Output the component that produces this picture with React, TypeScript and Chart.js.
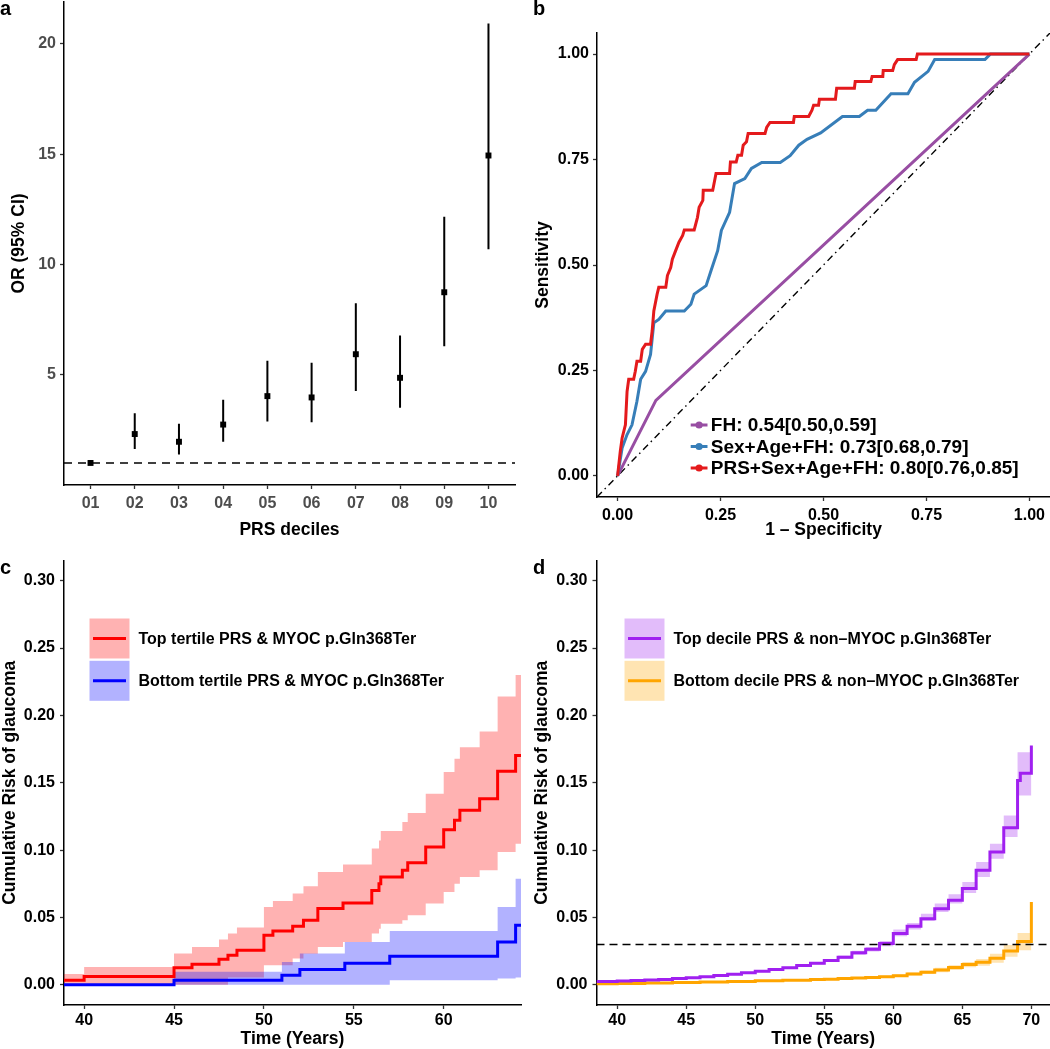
import React, { useEffect, useRef } from 'react';
import { Chart, registerables } from 'chart.js';

Chart.register(...registerables);

const FONT = "'Liberation Sans', Arial, Helvetica, sans-serif";

// ---------------- Panel a : OR by PRS decile ----------------
const decileLabels = ['01', '02', '03', '04', '05', '06', '07', '08', '09', '10'];
const decilePositions = [1, 2, 3, 4, 5, 6, 7, 8, 9, 10];
const orEstimate = [1.0, 2.31, 1.96, 2.74, 4.03, 3.97, 5.93, 4.86, 8.74, 14.94];
const orLower = [1.0, 1.63, 1.38, 1.96, 2.88, 2.84, 4.26, 3.5, 6.29, 10.69];
const orUpper = [1.0, 3.25, 2.78, 3.86, 5.63, 5.54, 8.24, 6.78, 12.16, 20.93];
const orTicks = [5, 10, 15, 20];
const orReference = 1;

// ---------------- Panel b : ROC curves ----------------
const fhFpr = [0, 0.093, 1];
const fhTpr = [0, 0.179, 1];
const clinFpr = [0, 0.011, 0.023, 0.035, 0.047, 0.056, 0.068, 0.08, 0.088, 0.1, 0.117, 0.162, 0.178, 0.186, 0.215, 0.227, 0.243, 0.252, 0.272, 0.284, 0.309, 0.325, 0.35, 0.395, 0.419, 0.44, 0.46, 0.493, 0.546, 0.587, 0.607, 0.627, 0.664, 0.705, 0.721, 0.754, 0.77, 0.892, 0.905, 1.0];
const clinTpr = [0, 0.066, 0.098, 0.121, 0.177, 0.229, 0.248, 0.288, 0.363, 0.371, 0.391, 0.391, 0.407, 0.431, 0.451, 0.487, 0.534, 0.582, 0.625, 0.693, 0.705, 0.729, 0.743, 0.743, 0.759, 0.784, 0.798, 0.813, 0.852, 0.852, 0.867, 0.867, 0.906, 0.906, 0.933, 0.959, 0.987, 0.987, 1.0, 1.0];
const prsFpr = [0, 0.0065, 0.011, 0.019, 0.023, 0.027, 0.039, 0.043, 0.047, 0.056, 0.06, 0.068, 0.08, 0.084, 0.088, 0.096, 0.1, 0.117, 0.121, 0.129, 0.133, 0.141, 0.149, 0.158, 0.162, 0.186, 0.194, 0.198, 0.207, 0.208, 0.231, 0.239, 0.272, 0.274, 0.288, 0.292, 0.301, 0.305, 0.313, 0.317, 0.358, 0.362, 0.37, 0.427, 0.429, 0.464, 0.472, 0.476, 0.488, 0.49, 0.529, 0.532, 0.575, 0.577, 0.615, 0.618, 0.644, 0.645, 0.668, 0.672, 0.68, 0.725, 0.728, 1.0];
const prsTpr = [0, 0.058, 0.09, 0.121, 0.2, 0.229, 0.229, 0.248, 0.272, 0.272, 0.3, 0.312, 0.312, 0.344, 0.391, 0.431, 0.447, 0.447, 0.475, 0.494, 0.514, 0.534, 0.554, 0.57, 0.583, 0.583, 0.613, 0.637, 0.653, 0.677, 0.677, 0.717, 0.717, 0.744, 0.744, 0.76, 0.76, 0.784, 0.792, 0.812, 0.812, 0.826, 0.838, 0.838, 0.852, 0.852, 0.867, 0.879, 0.879, 0.893, 0.893, 0.919, 0.919, 0.935, 0.935, 0.947, 0.947, 0.961, 0.961, 0.975, 0.987, 0.987, 1.0, 1.0];
const rocLabels = ['FH: 0.54[0.50,0.59]', 'Sex+Age+FH: 0.73[0.68,0.79]', 'PRS+Sex+Age+FH: 0.80[0.76,0.85]'];
const rocColors = ['#984EA3', '#377EB8', '#E41A1C'];
const rocTicks = [0, 0.25, 0.5, 0.75, 1];
const diagonal = [-0.05, 1.05];

// ---------------- Panel c : MYOC carriers by PRS tertile ----------------
const topTertileTime = [38.8, 40, 45, 46, 47.5, 48, 48.5, 50, 50.5, 51.6, 52.2, 53, 54.4, 56, 56.4, 56.5, 57.7, 58, 59, 60, 60.6, 60.9, 62, 63, 64, 64.4];
const topTertileRisk = [0.0034, 0.0062, 0.0126, 0.0153, 0.019, 0.022, 0.0257, 0.0368, 0.04, 0.0434, 0.048, 0.0566, 0.0608, 0.07, 0.0751, 0.08, 0.085, 0.0907, 0.1023, 0.1151, 0.1221, 0.1295, 0.1381, 0.1586, 0.1702, 0.1702];
const topTertileUpper = [0.008, 0.0133, 0.0232, 0.0281, 0.0336, 0.038, 0.0425, 0.0578, 0.0622, 0.0677, 0.0731, 0.0837, 0.0894, 0.1011, 0.1072, 0.1142, 0.1208, 0.1275, 0.1418, 0.158, 0.1679, 0.1764, 0.188, 0.214, 0.23, 0.23];
const topTertileLower = [0, 0, 0, 0, 0, 0.0054, 0.0054, 0.0145, 0.0145, 0.0195, 0.023, 0.028, 0.0318, 0.038, 0.0417, 0.0454, 0.0479, 0.0516, 0.0603, 0.0689, 0.0751, 0.08, 0.085, 0.0986, 0.1047, 0.1047];
const bottomTertileTime = [38.8, 45, 51, 52, 54.5, 57, 63, 64, 64.4];
const bottomTertileRisk = [0, 0.0034, 0.0071, 0.0113, 0.016, 0.0212, 0.0318, 0.0442, 0.0442];
const bottomTertileUpper = [0, 0.0096, 0.017, 0.0232, 0.0318, 0.04, 0.0578, 0.0788, 0.0788];
const bottomTertileLower = [0, 0, 0, 0, 0, 0.0034, 0.0046, 0.0054, 0.0054];
const tertileLabels = ['Top tertile PRS & MYOC p.Gln368Ter', 'Bottom tertile PRS & MYOC p.Gln368Ter'];
const ageTicksC = [40, 45, 50, 55, 60];
const riskTicks = [0, 0.05, 0.1, 0.15, 0.2, 0.25, 0.3];

// ---------------- Panel d : non-carriers by PRS decile ----------------
const topDecileTime = [38.5, 40, 41, 42, 43, 44, 45, 46, 47, 48, 49, 50, 51, 52, 53, 54, 55, 56, 57, 58, 59, 60, 61, 62, 63, 64, 65, 66, 67, 68, 69, 69.2, 70];
const topDecileRisk = [0.0024, 0.0028, 0.0031, 0.0035, 0.004, 0.0046, 0.0053, 0.006, 0.0069, 0.0078, 0.0089, 0.0101, 0.0113, 0.0127, 0.0143, 0.016, 0.018, 0.0205, 0.0237, 0.0264, 0.0306, 0.038, 0.0434, 0.0491, 0.0565, 0.0627, 0.0714, 0.085, 0.0985, 0.1166, 0.1517, 0.1571, 0.1776];
const topDecileUpper = [0.0025, 0.0029, 0.0032, 0.0036, 0.0041, 0.0048, 0.0055, 0.0063, 0.0072, 0.0082, 0.0093, 0.0106, 0.0119, 0.0134, 0.0151, 0.017, 0.0191, 0.0218, 0.0252, 0.0281, 0.0326, 0.041, 0.0459, 0.0528, 0.0603, 0.0672, 0.0763, 0.0912, 0.1048, 0.1257, 0.1727, 0.1727, 0.1727];
const topDecileLower = [0.0023, 0.0027, 0.003, 0.0034, 0.0039, 0.0044, 0.0051, 0.0057, 0.0066, 0.0074, 0.0085, 0.0096, 0.0107, 0.012, 0.0135, 0.015, 0.0169, 0.0192, 0.0222, 0.0247, 0.0286, 0.0361, 0.041, 0.0474, 0.0541, 0.0603, 0.0682, 0.08, 0.0936, 0.1097, 0.1406, 0.1406, 0.1406];
const bottomDecileTime = [38.5, 40, 42, 44, 46, 48, 50, 52, 54, 55, 56, 57, 58, 59, 60, 61, 62, 63, 64, 65, 66, 67, 68, 69, 70];
const bottomDecileRisk = [0.0008, 0.001, 0.0013, 0.0017, 0.0021, 0.0025, 0.003, 0.0034, 0.0039, 0.0042, 0.0046, 0.005, 0.0055, 0.006, 0.0068, 0.008, 0.0094, 0.011, 0.0128, 0.015, 0.0167, 0.0197, 0.025, 0.0322, 0.0615];
const bottomDecileUpper = [0.0009, 0.0011, 0.0014, 0.0018, 0.0023, 0.0027, 0.0033, 0.0037, 0.0043, 0.0046, 0.0051, 0.0056, 0.0062, 0.0068, 0.0077, 0.0091, 0.0107, 0.0126, 0.0146, 0.017, 0.0192, 0.023, 0.0296, 0.0385, 0.0385];
const bottomDecileLower = [0.0007, 0.0009, 0.0012, 0.0015, 0.0019, 0.0023, 0.0027, 0.0031, 0.0035, 0.0038, 0.0041, 0.0044, 0.0048, 0.0052, 0.0059, 0.0069, 0.0081, 0.0094, 0.011, 0.013, 0.0142, 0.0163, 0.0208, 0.0257, 0.0257];
const decileKmLabels = ['Top decile PRS & non\u2013MYOC p.Gln368Ter', 'Bottom decile PRS & non\u2013MYOC p.Gln368Ter'];
const ageTicksD = [40, 45, 50, 55, 60, 65, 70];
const riskThreshold = 0.03;

// ---------------- helpers ----------------
type Frame = { w: number; h: number; left: number; top: number; right: number; bottom: number };
type AxisSpec = { min: number; max: number; ticks: number[]; format: (v: number) => string; color: string; pad: number };

const pts = (xs: number[], ys: (number | null)[]) => xs.map((x, i) => ({ x, y: ys[i] }));

const tickFont = { family: FONT, size: 16, weight: 'bold' as const };

function scales(f: Frame, x: AxisSpec, y: AxisSpec) {
  const grid = { display: true, drawOnChartArea: false, drawTicks: true, tickLength: 4, tickWidth: 1.3, tickColor: '#333' };
  const border = { display: true, color: '#000', width: 1.5 };
  return {
    x: {
      type: 'linear', min: x.min, max: x.max,
      afterBuildTicks: (s: any) => { s.ticks = x.ticks.map((value) => ({ value })); },
      afterFit: (s: any) => { s.height = f.h - f.bottom; s.paddingLeft = 0; s.paddingRight = 0; s.paddingTop = 0; s.paddingBottom = 0; },
      grid, border,
      ticks: { color: x.color, font: tickFont, padding: x.pad, maxRotation: 0, minRotation: 0, autoSkip: false, callback: (v: any) => x.format(Number(v)) },
    },
    y: {
      type: 'linear', min: y.min, max: y.max,
      afterBuildTicks: (s: any) => { s.ticks = y.ticks.map((value) => ({ value })); },
      afterFit: (s: any) => { s.width = f.left; s.paddingLeft = 0; s.paddingRight = 0; s.paddingTop = 0; s.paddingBottom = 0; },
      grid, border,
      ticks: { color: y.color, font: tickFont, padding: y.pad, autoSkip: false, callback: (v: any) => y.format(Number(v)) },
    },
  };
}

function baseOptions(f: Frame, sc: any) {
  return {
    animation: false,
    responsive: false,
    maintainAspectRatio: false,
    devicePixelRatio: 1,
    layout: { autoPadding: false, padding: { left: 0, top: f.top, right: f.w - f.right, bottom: 0 } },
    plugins: { legend: { display: false }, tooltip: { enabled: false }, title: { display: false } },
    events: [],
    scales: sc,
  };
}

function text(ctx: CanvasRenderingContext2D, s: string, x: number, y: number, size: number,
  align: CanvasTextAlign = 'left', baseline: CanvasTextBaseline = 'alphabetic', rotate = false, color = '#000') {
  ctx.save();
  ctx.font = `bold ${size}px ${FONT}`;
  ctx.fillStyle = color;
  ctx.textAlign = align;
  ctx.textBaseline = baseline;
  if (rotate) {
    ctx.translate(x, y);
    ctx.rotate(-Math.PI / 2);
    ctx.fillText(s, 0, 0);
  } else {
    ctx.fillText(s, x, y);
  }
  ctx.restore();
}

function decor(draw: (ctx: CanvasRenderingContext2D, chart: any) => void) {
  return {
    id: 'decor',
    afterDraw(chart: any) {
      const ctx = chart.ctx as CanvasRenderingContext2D;
      ctx.save();
      draw(ctx, chart);
      ctx.restore();
    },
  };
}

function bandLegend(ctx: CanvasRenderingContext2D, x0: number, textX: number, labels: string[], lines: string[], fills: string[]) {
  labels.forEach((lab, i) => {
    const top = 78.5 + i * 42.3;
    ctx.fillStyle = fills[i];
    ctx.fillRect(x0, top, 40, 40);
    ctx.strokeStyle = lines[i];
    ctx.lineWidth = 3;
    ctx.beginPath();
    ctx.moveTo(x0 + 3.5, top + 20);
    ctx.lineTo(x0 + 36.5, top + 20);
    ctx.stroke();
    text(ctx, lab, textX, top + 21, 16, 'left', 'middle');
  });
}

function kmDatasets(time: number[], est: number[], lo: number[], hi: number[], line: string, fill: string) {
  return {
    line: { type: 'line', data: pts(time, est), borderColor: line, borderWidth: 3, pointRadius: 0, stepped: 'before', fill: false },
    upper: { type: 'line', data: pts(time, hi), borderColor: 'rgba(0,0,0,0)', borderWidth: 0, pointRadius: 0, stepped: 'before', fill: '+1', backgroundColor: fill },
    lower: { type: 'line', data: pts(time, lo), borderColor: 'rgba(0,0,0,0)', borderWidth: 0, pointRadius: 0, stepped: 'before', fill: false },
  };
}

// ---------------- chart configs ----------------
function configA() {
  const f: Frame = { w: 525, h: 540, left: 64, top: 2, right: 515, bottom: 485 };
  const grey = '#4D4D4D';
  const errData: { x: number; y: number | null }[] = [];
  decilePositions.forEach((p, i) => {
    errData.push({ x: p, y: orLower[i] }, { x: p, y: orUpper[i] }, { x: p, y: null });
  });
  const sc = scales(f,
    { min: 0.4, max: 10.6, ticks: decilePositions, format: (v) => decileLabels[Math.round(v) - 1] ?? '', color: grey, pad: 5 },
    { min: 0, max: 21.9, ticks: orTicks, format: (v) => String(v), color: grey, pad: 4 });
  return {
    type: 'scatter',
    data: {
      datasets: [
        { data: pts(decilePositions, orEstimate), pointStyle: 'rect', pointRadius: 4.2, backgroundColor: '#000', borderColor: '#000', borderWidth: 0, showLine: false },
        { data: errData, showLine: true, borderColor: '#000', borderWidth: 2, pointRadius: 0, spanGaps: false },
        { data: [{ x: 0.4, y: orReference }, { x: 10.6, y: orReference }], showLine: true, borderColor: '#000', borderWidth: 1.5, borderDash: [8, 6], pointRadius: 0 },
      ],
    },
    options: baseOptions(f, sc),
    plugins: [decor((ctx) => {
      text(ctx, 'a', 0, 15, 20);
      text(ctx, 'PRS deciles', (f.left + f.right) / 2, 535, 17.5, 'center');
      text(ctx, 'OR (95% CI)', 23.8, (f.top + f.bottom) / 2, 17.5, 'center', 'alphabetic', true);
    })],
  };
}

function configB() {
  const f: Frame = { w: 525, h: 540, left: 72, top: 33, right: 525, bottom: 497 };
  const fmt = (v: number) => v.toFixed(2);
  const sc = scales(f,
    { min: -0.05, max: 1.05, ticks: rocTicks, format: fmt, color: '#000', pad: 5 },
    { min: -0.05, max: 1.05, ticks: rocTicks, format: fmt, color: '#000', pad: 4 });
  const lineDs = (xs: number[], ys: number[], c: string) => ({ type: 'line', data: pts(xs, ys), borderColor: c, borderWidth: 3, pointRadius: 0, fill: false, tension: 0 });
  return {
    type: 'line',
    data: {
      datasets: [
        lineDs(prsFpr, prsTpr, rocColors[2]),
        lineDs(clinFpr, clinTpr, rocColors[1]),
        lineDs(fhFpr, fhTpr, rocColors[0]),
        { type: 'line', data: pts(diagonal, diagonal), borderColor: '#000', borderWidth: 1.4, borderDash: [7, 4, 1.5, 4], pointRadius: 0, fill: false },
      ],
    },
    options: baseOptions(f, sc),
    plugins: [decor((ctx) => {
      text(ctx, 'b', 8, 15, 20);
      text(ctx, '1 \u2013 Specificity', (f.left + f.right) / 2, 535, 17.5, 'center');
      text(ctx, 'Sensitivity', 22.5, (f.top + f.bottom) / 2, 17.5, 'center', 'alphabetic', true);
      rocLabels.forEach((lab, i) => {
        const y = 425 + i * 21.5;
        ctx.strokeStyle = rocColors[i];
        ctx.lineWidth = 3;
        ctx.beginPath();
        ctx.moveTo(165.7, y);
        ctx.lineTo(182.5, y);
        ctx.stroke();
        ctx.fillStyle = rocColors[i];
        ctx.beginPath();
        ctx.arc(174.1, y, 3.6, 0, Math.PI * 2);
        ctx.fill();
        text(ctx, lab, 185.8, y + 1, 19, 'left', 'middle');
      });
    })],
  };
}

function configC() {
  const f: Frame = { w: 525, h: 509, left: 64, top: 20.5, right: 521, bottom: 465 };
  const sc = scales(f,
    { min: 38.88, max: 64.3, ticks: ageTicksC, format: (v) => String(v), color: '#000', pad: 2 },
    { min: -0.015, max: 0.315, ticks: riskTicks, format: (v) => v.toFixed(2), color: '#000', pad: 5 });
  const redFill = 'rgba(255,0,0,0.3)';
  const blueFill = 'rgba(0,0,255,0.3)';
  const top = kmDatasets(topTertileTime, topTertileRisk, topTertileLower, topTertileUpper, '#FF0000', redFill);
  const bot = kmDatasets(bottomTertileTime, bottomTertileRisk, bottomTertileLower, bottomTertileUpper, '#0000FF', blueFill);
  return {
    type: 'line',
    data: { datasets: [top.line, bot.line, bot.upper, bot.lower, top.upper, top.lower] },
    options: baseOptions(f, sc),
    plugins: [decor((ctx) => {
      text(ctx, 'c', 0, 34, 20);
      text(ctx, 'Time (Years)', (f.left + f.right) / 2, 504, 17.5, 'center');
      text(ctx, 'Cumulative Risk of glaucoma', 14.5, (f.top + f.bottom) / 2, 17.5, 'center', 'alphabetic', true);
      bandLegend(ctx, 89.5, 138.5, tertileLabels, ['#FF0000', '#0000FF'], [redFill, blueFill]);
    })],
  };
}

function configD() {
  const f: Frame = { w: 525, h: 509, left: 71.5, top: 20.5, right: 525, bottom: 465 };
  const sc = scales(f,
    { min: 38.5, max: 71.35, ticks: ageTicksD, format: (v) => String(v), color: '#000', pad: 2 },
    { min: -0.015, max: 0.315, ticks: riskTicks, format: (v) => v.toFixed(2), color: '#000', pad: 5 });
  const purpleFill = 'rgba(160,32,240,0.3)';
  const orangeFill = 'rgba(255,165,0,0.3)';
  const top = kmDatasets(topDecileTime, topDecileRisk, topDecileLower, topDecileUpper, '#A020F0', purpleFill);
  const bot = kmDatasets(bottomDecileTime, bottomDecileRisk, bottomDecileLower, bottomDecileUpper, '#FFA500', orangeFill);
  return {
    type: 'line',
    data: {
      datasets: [
        { type: 'line', data: [{ x: 38.5, y: riskThreshold }, { x: 71.35, y: riskThreshold }], borderColor: '#000', borderWidth: 1.5, borderDash: [8, 5], pointRadius: 0, fill: false },
        top.line, bot.line, top.upper, top.lower, bot.upper, bot.lower,
      ],
    },
    options: baseOptions(f, sc),
    plugins: [decor((ctx) => {
      text(ctx, 'd', 8, 34, 20);
      text(ctx, 'Time (Years)', (f.left + f.right) / 2, 504, 17.5, 'center');
      text(ctx, 'Cumulative Risk of glaucoma', 21.7, (f.top + f.bottom) / 2, 17.5, 'center', 'alphabetic', true);
      bandLegend(ctx, 99.5, 148.5, decileKmLabels, ['#A020F0', '#FFA500'], [purpleFill, orangeFill]);
    })],
  };
}

function Panel({ left, top, width, height, make }: { left: number; top: number; width: number; height: number; make: () => any }) {
  const ref = useRef<HTMLCanvasElement>(null);
  useEffect(() => {
    const chart = new Chart(ref.current as HTMLCanvasElement, make());
    return () => chart.destroy();
  }, []);
  return (
    <canvas ref={ref} width={width} height={height}
      style={{ position: 'absolute', left, top, width, height, display: 'block' }} />
  );
}

export default function App() {
  return (
    <div style={{ position: 'absolute', left: 0, top: 0, width: 1050, height: 1049, background: '#fff', overflow: 'hidden' }}>
      <Panel left={0} top={0} width={525} height={540} make={configA} />
      <Panel left={525} top={0} width={525} height={540} make={configB} />
      <Panel left={0} top={540} width={525} height={509} make={configC} />
      <Panel left={525} top={540} width={525} height={509} make={configD} />
    </div>
  );
}
